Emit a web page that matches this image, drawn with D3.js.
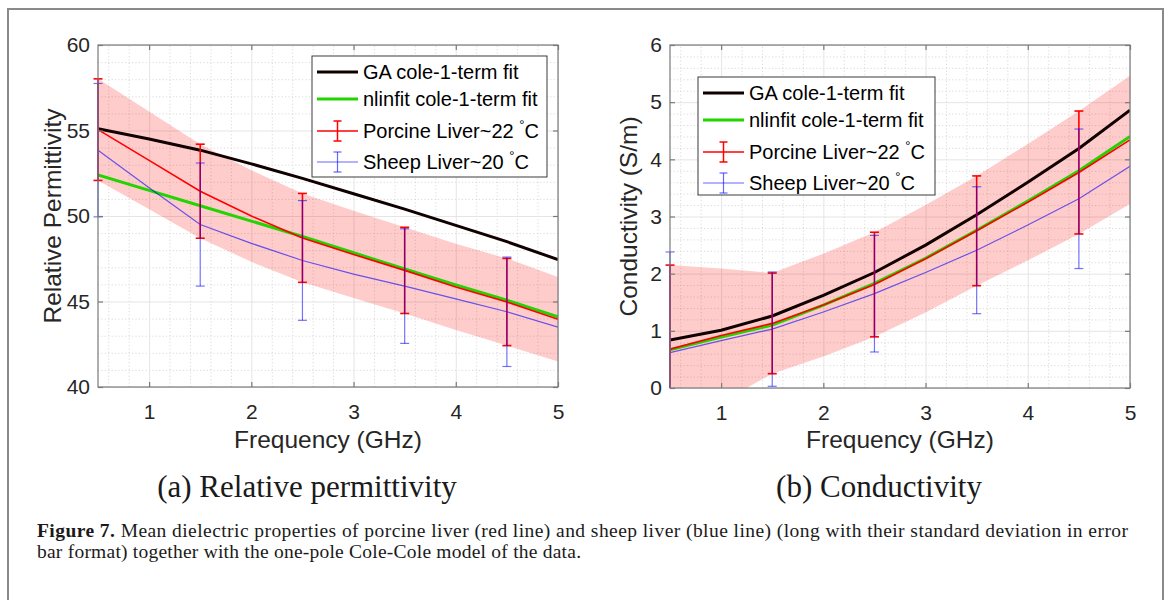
<!DOCTYPE html>
<html>
<head>
<meta charset="utf-8">
<script src="https://cdn.jsdelivr.net/npm/d3@7"></script>
<style>
  body { margin: 0; background: #fff; }
  svg { display: block; }
</style>
</head>
<body>
<svg id="fig" width="1171" height="600"></svg>
<script>
// frequencies (GHz) of the curves and of the error bars
const freq = [0.5, 1, 1.5, 2, 2.5, 3, 3.5, 4, 4.5, 5];
const barFreq = [0.5, 1.5, 2.5, 3.5, 4.5];

// relative permittivity
const permGA = [55.1, 54.5, 53.85, 53.05, 52.2, 51.3, 50.4, 49.45, 48.5, 47.45];
const permNlin = [52.4, 51.5, 50.6, 49.7, 48.8, 47.85, 46.9, 45.97, 45.07, 44.1];
const permPorcine = [55.05, 53.25, 51.45, 50.0, 48.72, 47.75, 46.82, 45.85, 44.97, 43.96];
const permPorcineSd = [2.97, 2.86, 2.75, 2.68, 2.6, 2.55, 2.52, 2.52, 2.55, 2.47];
const permSheep = [53.85, 51.65, 49.5, 48.4, 47.4, 46.6, 45.9, 45.15, 44.4, 43.5];
const permSheepSd = [3.9, 3.6, 3.5, 3.35, 3.2];   // at barFreq

// conductivity (S/m)
const condGA = [0.84, 1.01, 1.26, 1.62, 2.02, 2.5, 3.03, 3.6, 4.19, 4.86];
const condNlin = [0.67, 0.89, 1.1, 1.45, 1.83, 2.27, 2.76, 3.27, 3.8, 4.4];
const condPorcine = [0.68, 0.92, 1.13, 1.45, 1.81, 2.26, 2.75, 3.25, 3.77, 4.34];
const condPorcineSd = [1.47, 1.17, 0.88, 0.9, 0.915, 0.94, 0.96, 1.02, 1.075, 1.12];
const condSheep = [0.62, 0.83, 1.03, 1.33, 1.65, 2.02, 2.41, 2.85, 3.31, 3.88];
const condSheepSd = [1.76, 1.0, 1.02, 1.11, 1.22];   // at barFreq

const xTicks = [1, 2, 3, 4, 5];
const xMinor = d3.range(6, 50, 2).map(v => v / 10).filter(v => v % 1 !== 0);

const legendLabels = ['GA cole-1-term fit', 'nlinfit cole-1-term fit', 'Porcine Liver~22 ', 'Sheep Liver~20 '];

const captionBold = 'Figure 7.';
const captionLine1 = ' Mean dielectric properties of porcine liver (red line) and sheep liver (blue line) (long with their standard deviation in error';
const captionLine2 = 'bar format) together with the one-pole Cole-Cole model of the data.';

const svg = d3.select('#fig');
const sans = 'Liberation Sans, Arial, Helvetica, sans-serif';
const serif = 'Liberation Serif, Times New Roman, serif';

const panels = [
    {
        id: 'a', x0: 98, x1: 558, y0: 45, y1: 387,
        yDomain: [40, 60], yTicks: [40, 45, 50, 55, 60],
        yMinor: d3.range(41, 60).filter(v => v % 5 !== 0),
        yLabel: 'Relative Permittivity', yLabelX: 61,
        ga: permGA, nlin: permNlin, porc: permPorcine, porcSd: permPorcineSd,
        sheep: permSheep, sheepSd: permSheepSd,
        legend: { x: 312, y: 56, w: 235, h: 121 },
        sub: '(a) Relative permittivity', subX: 307
    },
    {
        id: 'b', x0: 670, x1: 1130, y0: 45, y1: 388,
        yDomain: [0, 6], yTicks: [0, 1, 2, 3, 4, 5, 6],
        yMinor: d3.range(1, 30).map(v => v / 5).filter(v => v % 1 !== 0),
        yLabel: 'Conductivity (S/m)', yLabelX: 637,
        ga: condGA, nlin: condNlin, porc: condPorcine, porcSd: condPorcineSd,
        sheep: condSheep, sheepSd: condSheepSd,
        legend: { x: 698, y: 77, w: 237, h: 118 },
        sub: '(b) Conductivity', subX: 879
    }
];

// outer frame of the figure
svg.append('rect')
    .attr('x', 8).attr('y', 9)
    .attr('width', 1155).attr('height', 640)
    .attr('fill', 'none')
    .attr('stroke', '#8a8a8a')
    .attr('stroke-width', 2);


function drawPanel(p) {
    const x = d3.scaleLinear().domain([0.5, 5]).range([p.x0, p.x1]);
    const y = d3.scaleLinear().domain(p.yDomain).range([p.y1, p.y0]);
    const w = p.x1 - p.x0;
    const h = p.y1 - p.y0;
    const g = svg.append('g');

    g.append('clipPath').attr('id', 'clip-' + p.id)
        .append('rect')
        .attr('x', p.x0).attr('y', p.y0)
        .attr('width', w).attr('height', h);

    // grid: minor dotted, major solid
    const gridStyle = (sel, color, dash) => sel
        .call(s => s.select('.domain').remove())
        .selectAll('line')
        .attr('stroke', color)
        .attr('stroke-width', 0.9)
        .attr('stroke-dasharray', dash);

    g.append('g')
        .attr('transform', `translate(0,${p.y1})`)
        .call(d3.axisBottom(x).tickValues(xMinor).tickSize(-h).tickFormat(''))
        .call(s => gridStyle(s, '#d6d6d6', '1.2,2.2'));
    g.append('g')
        .attr('transform', `translate(${p.x0},0)`)
        .call(d3.axisLeft(y).tickValues(p.yMinor).tickSize(-w).tickFormat(''))
        .call(s => gridStyle(s, '#d6d6d6', '1.2,2.2'));
    g.append('g')
        .attr('transform', `translate(0,${p.y1})`)
        .call(d3.axisBottom(x).tickValues(xTicks).tickSize(-h).tickFormat(''))
        .call(s => gridStyle(s, '#e2e2e2', null));
    g.append('g')
        .attr('transform', `translate(${p.x0},0)`)
        .call(d3.axisLeft(y).tickValues(p.yTicks).tickSize(-w).tickFormat(''))
        .call(s => gridStyle(s, '#e2e2e2', null));

    const data = g.append('g').attr('clip-path', `url(#clip-${p.id})`);

    // std band of porcine liver
    const band = d3.area()
        .x((d, i) => x(freq[i]))
        .y0((d, i) => y(d - p.porcSd[i]))
        .y1((d, i) => y(d + p.porcSd[i]));
    data.append('path')
        .datum(p.porc)
        .attr('d', band)
        .attr('fill', '#ff0000')
        .attr('fill-opacity', 0.2);

    const line = d3.line().x((d, i) => x(freq[i])).y(d => y(d));

    data.append('path').datum(p.ga).attr('d', line)
        .attr('fill', 'none').attr('stroke', '#100000').attr('stroke-width', 3);
    data.append('path').datum(p.nlin).attr('d', line)
        .attr('fill', 'none').attr('stroke', '#22d400').attr('stroke-width', 3);
    data.append('path').datum(p.porc).attr('d', line)
        .attr('fill', 'none').attr('stroke', '#ff0000').attr('stroke-width', 1.6);

    // error bars
    const [lo, hi] = p.yDomain;
    const clamp = v => Math.max(lo, Math.min(hi, v));
    const errorBars = (means, sds, color, width, opacity) => {
        const eb = g.append('g')
            .attr('stroke', color)
            .attr('stroke-width', width)
            .attr('stroke-opacity', opacity);
        barFreq.forEach((f, i) => {
            const m = means[freq.indexOf(f)];
            const s = sds[i];
            const top = m + s, bot = m - s;
            eb.append('line')
                .attr('x1', x(f)).attr('x2', x(f))
                .attr('y1', y(clamp(top))).attr('y2', y(clamp(bot)));
            [top, bot].forEach(v => {
                if (v >= lo && v <= hi) {
                    eb.append('line')
                        .attr('x1', x(f) - 4.5).attr('x2', x(f) + 4.5)
                        .attr('y1', y(v)).attr('y2', y(v));
                }
            });
        });
    };
    errorBars(p.porc, barFreq.map(f => p.porcSd[freq.indexOf(f)]), '#ff0000', 1.6, 1);

    data.append('path').datum(p.sheep).attr('d', line)
        .attr('fill', 'none').attr('stroke', '#0000ff').attr('stroke-width', 1.2)
        .attr('stroke-opacity', 0.6);
    errorBars(p.sheep, p.sheepSd, '#0000ff', 1.2, 0.55);

    // box and inner ticks
    g.append('rect')
        .attr('x', p.x0).attr('y', p.y0)
        .attr('width', w).attr('height', h)
        .attr('fill', 'none')
        .attr('stroke', '#7a7a7a')
        .attr('stroke-width', 1.2);

    const tickStyle = sel => sel
        .call(s => s.select('.domain').remove())
        .call(s => s.selectAll('line').attr('stroke', '#7a7a7a').attr('stroke-width', 1.2))
        .call(s => s.selectAll('text')
            .attr('fill', '#262626')
            .style('font-family', sans)
            .style('font-size', '21px'));

    g.append('g')
        .attr('transform', `translate(0,${p.y1})`)
        .call(d3.axisBottom(x).tickValues(xTicks).tickSize(-5).tickPadding(17).tickFormat(d3.format('d')))
        .call(tickStyle);
    g.append('g')
        .attr('transform', `translate(0,${p.y0})`)
        .call(d3.axisTop(x).tickValues(xTicks).tickSize(-5).tickFormat(''))
        .call(tickStyle);
    g.append('g')
        .attr('transform', `translate(${p.x0},0)`)
        .call(d3.axisLeft(y).tickValues(p.yTicks).tickSize(-5).tickPadding(8).tickFormat(d3.format('d')))
        .call(tickStyle);
    g.append('g')
        .attr('transform', `translate(${p.x1},0)`)
        .call(d3.axisRight(y).tickValues(p.yTicks).tickSize(-5).tickFormat(''))
        .call(tickStyle);

    // axis labels
    g.append('text')
        .attr('x', (p.x0 + p.x1) / 2).attr('y', 448)
        .attr('text-anchor', 'middle')
        .attr('fill', '#262626')
        .style('font-family', sans).style('font-size', '24.5px')
        .text('Frequency (GHz)');
    g.append('text')
        .attr('transform', `translate(${p.yLabelX},${(p.y0 + p.y1) / 2}) rotate(-90)`)
        .attr('text-anchor', 'middle')
        .attr('fill', '#262626')
        .style('font-family', sans).style('font-size', '24.5px')
        .text(p.yLabel);

    // sub caption
    g.append('text')
        .attr('x', p.subX).attr('y', 497)
        .attr('text-anchor', 'middle')
        .attr('fill', '#1a1a1a')
        .style('font-family', serif).style('font-size', '31px')
        .text(p.sub);

    // legend
    const L = p.legend;
    const lg = g.append('g').attr('transform', `translate(${L.x},${L.y})`);
    lg.append('rect')
        .attr('width', L.w).attr('height', L.h)
        .attr('fill', '#fff')
        .attr('stroke', '#262626')
        .attr('stroke-width', 0.9);
    const rows = [16, 43, 75, 106];
    const items = [
        { color: '#100000', width: 3, bar: false },
        { color: '#22d400', width: 3, bar: false },
        { color: '#ff0000', width: 1.5, bar: true, op: 1 },
        { color: '#0000ff', width: 1.2, bar: true, op: 0.6 }
    ];
    items.forEach((it, i) => {
        const ry = rows[i];
        const s = lg.append('g')
            .attr('stroke', it.color)
            .attr('stroke-width', it.width)
            .attr('stroke-opacity', it.op || 1);
        s.append('line').attr('x1', 5).attr('x2', 46).attr('y1', ry).attr('y2', ry);
        if (it.bar) {
            s.append('line').attr('x1', 25.5).attr('x2', 25.5).attr('y1', ry - 10).attr('y2', ry + 10);
            s.append('line').attr('x1', 21.5).attr('x2', 29.5).attr('y1', ry - 10).attr('y2', ry - 10);
            s.append('line').attr('x1', 21.5).attr('x2', 29.5).attr('y1', ry + 10).attr('y2', ry + 10);
        }
        const t = lg.append('text')
            .attr('x', 51).attr('y', ry + 7)
            .attr('fill', '#000')
            .style('font-family', sans).style('font-size', '20px')
            .text(legendLabels[i]);
        if (it.bar) {
            t.append('tspan').attr('dy', -9).style('font-size', '13px').text('°');
            t.append('tspan').attr('dy', 9).text('C');
        }
    });
}

panels.forEach(drawPanel);

// figure caption
const cap = svg.append('g')
    .style('font-family', serif)
    .style('font-size', '19.5px')
    .attr('fill', '#1a1a1a');
const c1 = cap.append('text')
    .attr('x', 37).attr('y', 537)
    .attr('textLength', 1091)
    .attr('lengthAdjust', 'spacing');
c1.append('tspan').style('font-weight', 'bold').text(captionBold);
c1.append('tspan').text(captionLine1);
cap.append('text')
    .attr('x', 37).attr('y', 558)
    .attr('textLength', 544)
    .attr('lengthAdjust', 'spacing')
    .text(captionLine2);
</script>
</body>
</html>
